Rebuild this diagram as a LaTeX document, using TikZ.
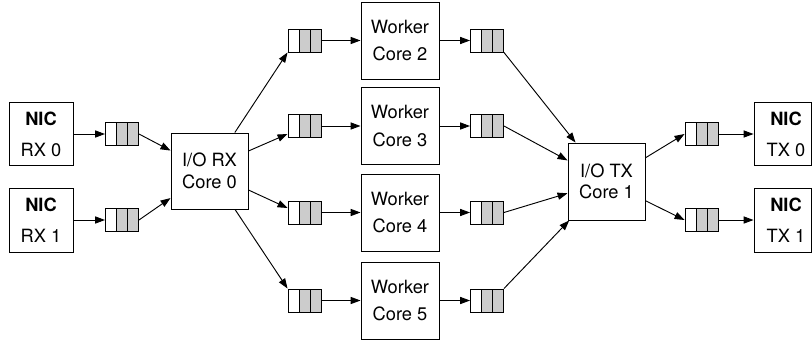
\documentclass[tikz,border=0pt]{standalone}
\usepackage{fontspec}
\setmainfont{TeX Gyre Heros}
\usetikzlibrary{arrows.meta,calc}
\definecolor{qgray}{RGB}{204,204,204}
\tikzset{
  lw/.style={line width=0.7pt},
  corebox/.style={draw, lw, inner sep=0pt, align=center, minimum width=57.75pt, minimum height=57.75pt},
  workertxt/.style={font=\fontsize{13.7}{20.8}\selectfont},
  iotxt/.style={font=\fontsize{13.7}{16.2}\selectfont},
  nicbox/.style={draw, lw, inner sep=0pt, align=center, minimum width=48pt, minimum height=47.5pt,
    font=\fontsize{13.7}{23.3}\selectfont},
  nictxt/.style={inner sep=0pt, align=center, font=\fontsize{13.7}{23.3}\selectfont},
  queue/.style={draw, lw, inner sep=0pt, minimum width=24.75pt, minimum height=17.25pt,
    path picture={
      \fill[qgray] ($(path picture bounding box.south west)!0.3333!(path picture bounding box.south east)$)
        rectangle (path picture bounding box.north east);
      \draw[lw] ($(path picture bounding box.south west)!0.3333!(path picture bounding box.south east)$)
        -- ($(path picture bounding box.north west)!0.3333!(path picture bounding box.north east)$);
      \draw[lw] ($(path picture bounding box.south west)!0.6667!(path picture bounding box.south east)$)
        -- ($(path picture bounding box.north west)!0.6667!(path picture bounding box.north east)$);
    }},
  arr/.style={lw, -{Triangle[length=7.5pt,width=5.4pt]}},
}
\begin{document}
\begin{tikzpicture}[x=0.75pt, y=-0.75pt]
\useasboundingbox (0,0) rectangle (812,342);
% NIC RX
\node[nicbox] (nrx0) at (41,134) {\textbf{NIC}\\RX 0};
\node[nicbox, minimum height=48pt] (nrx1) at (41,220) {\textbf{NIC}\\RX 1};
% RX queues
\node[queue] (qi0) at (122,134) {};
\node[queue] (qi1) at (122,220) {};
% I/O RX
\node[corebox, iotxt, minimum height=57pt] (iorx) at (209.5,171) {I/O RX\\Core 0};
% worker input queues
\node[queue] (q2i) at (304.5,40.5) {};
\node[queue] (q3i) at (304.5,126) {};
\node[queue] (q4i) at (304.5,212.5) {};
\node[queue] (q5i) at (304.5,300.5) {};
% workers
\node[corebox, workertxt, minimum width=58.5pt] (w2) at (400,40.5) {Worker\\Core 2};
\node[corebox, workertxt, minimum width=58.5pt] (w3) at (400,126) {Worker\\Core 3};
\node[corebox, workertxt, minimum width=58.5pt] (w4) at (400,212.5) {Worker\\Core 4};
\node[corebox, workertxt, minimum width=58.5pt] (w5) at (400,300.5) {Worker\\Core 5};
% worker output queues
\node[queue] (q2o) at (487,40.5) {};
\node[queue] (q3o) at (487,126) {};
\node[queue] (q4o) at (487,212.5) {};
\node[queue] (q5o) at (487,300.5) {};
% I/O TX
\node[corebox, iotxt] (iotx) at (606.5,181.5) {I/O TX\\Core 1};
% TX queues
\node[queue] (qo0) at (701.5,134) {};
\node[queue] (qo1) at (701.5,220) {};
% NIC TX
\node[nicbox, minimum width=42.75pt] (ntx0) at (782.5,134) {};
\node[nicbox, minimum width=42.75pt, minimum height=48pt] (ntx1) at (782.5,220) {};
\node[nictxt] (ntx0t) at (786,134) {\textbf{NIC}\\TX 0};
\node[nictxt] (ntx1t) at (786,220) {\textbf{NIC}\\TX 1};
% connectors
\draw[arr] (nrx0.east) -- (qi0.west);
\draw[arr] (nrx1.east) -- (qi1.west);
\draw[arr] (qi0.east) -- (iorx);
\draw[arr] (qi1.east) -- (iorx);
\draw[arr] (iorx) -- (q2i.south west);
\draw[arr] ($(iorx.east)+(0,-20)$) -- ($(q3i.west)+(0,8)$);
\draw[arr] ($(iorx.east)+(0,19)$) -- ($(q4i.west)+(0,-4.5)$);
\draw[arr] (iorx) -- (q5i.north west);
\foreach \i in {2,3,4,5}{
  \draw[arr] (q\i i.east) -- (w\i.west);
  \draw[arr] (w\i.east) -- (q\i o.west);
}
\draw[arr] (q2o.south east) -- (iotx);
\draw[arr] (q3o.east) -- (iotx);
\draw[arr] (q4o.east) -- (iotx);
\draw[arr] (q5o.north east) -- (iotx);
\draw[arr] (iotx) -- (qo0.west);
\draw[arr] (iotx) -- (qo1.west);
\draw[arr] (qo0.east) -- (ntx0.west);
\draw[arr] (qo1.east) -- (ntx1.west);
\end{tikzpicture}
\end{document}
